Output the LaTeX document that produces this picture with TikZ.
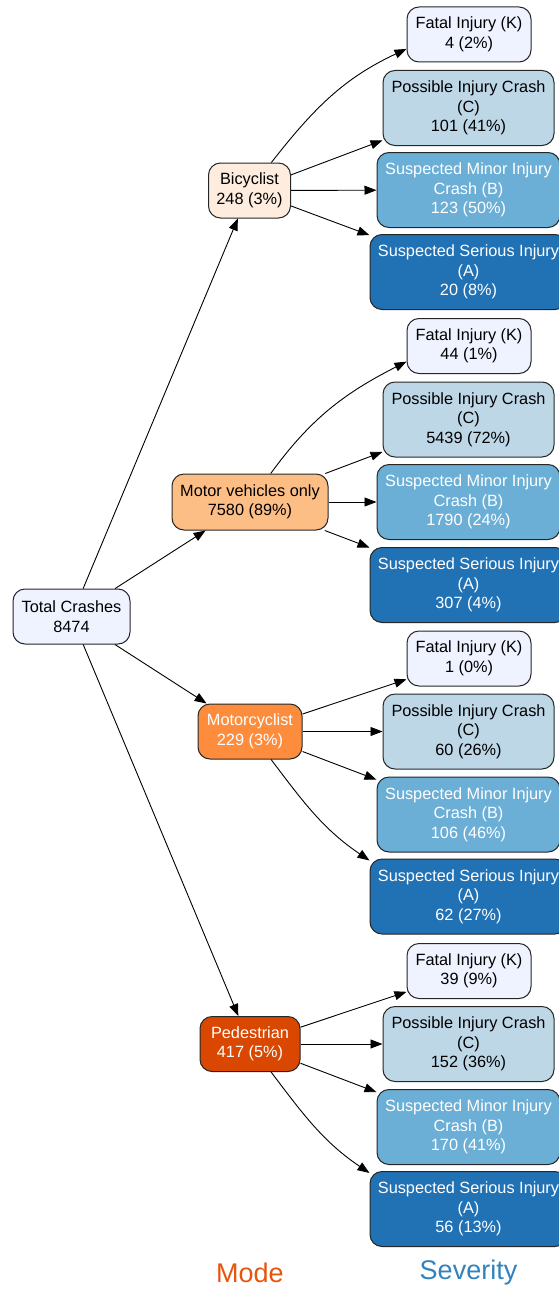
\documentclass[tikz,border=0pt]{standalone}
\usepackage{fontspec}
\setmainfont{Liberation Sans}
\usetikzlibrary{arrows.meta}
\definecolor{tc}{HTML}{EFF3FF}
\definecolor{o1}{HTML}{FEEDDE}
\definecolor{o2}{HTML}{FDBE85}
\definecolor{o3}{HTML}{FD8D3C}
\definecolor{o4}{HTML}{D94701}
\definecolor{sk}{HTML}{EFF3FF}
\definecolor{sc}{HTML}{BDD7E7}
\definecolor{sb}{HTML}{6BAED6}
\definecolor{sa}{HTML}{2171B5}
\definecolor{modec}{HTML}{E6550D}
\definecolor{sevc}{HTML}{3182BD}
\begin{document}
\begin{tikzpicture}[x=1pt,y=1pt,
  box/.style={draw=black!85, line width=1pt, rounded corners=12pt, align=center,
    inner sep=0pt, font=\fontsize{16.3}{19.5}\selectfont},
  tot/.style={box, fill=tc, minimum width=117pt, minimum height=55pt},
  fk/.style={box, fill=sk, minimum width=124pt, minimum height=55pt},
  pc/.style={box, fill=sc, minimum width=171pt, minimum height=75pt},
  mb/.style={box, fill=sb, text=white, minimum width=183pt, minimum height=75pt},
  sa/.style={box, fill=sa, text=white, minimum width=197pt, minimum height=75pt},
  edge/.style={-{Triangle[length=12pt,width=9pt]}, line width=0.9pt, black},
  lab/.style={font=\fontsize{27}{30}\selectfont, inner sep=0pt}
]
\useasboundingbox (0,0) rectangle (559,-1290);

% root
\node[tot] (tot) at (71.5,-616.5) {Total Crashes\\8474};

% modes
\node[box, fill=o1, minimum width=82pt, minimum height=55pt] (bic) at (249.5,-190.5) {Bicyclist\\248 (3\%)};
\node[box, fill=o2, minimum width=156pt, minimum height=56pt] (mv) at (250,-502) {Motor vehicles only\\7580 (89\%)};
\node[box, fill=o3, text=white, minimum width=104pt, minimum height=55pt] (mc) at (250,-731.5) {Motorcyclist\\229 (3\%)};
\node[box, fill=o4, text=white, minimum width=100pt, minimum height=55pt] (pd) at (250,-1044) {Pedestrian\\417 (5\%)};

% severity group 1
\node[fk] (f1) at (469,-34.5) {Fatal Injury (K)\\4 (2\%)};
\node[pc] (p1) at (468.5,-108) {Possible Injury Crash\\(C)\\101 (41\%)};
\node[mb] (m1) at (468.5,-190) {Suspected Minor Injury\\Crash (B)\\123 (50\%)};
\node[sa] (s1) at (468.5,-272) {Suspected Serious Injury\\(A)\\20 (8\%)};
% group 2
\node[fk] (f2) at (469,-346) {Fatal Injury (K)\\44 (1\%)};
\node[pc] (p2) at (468.5,-419.5) {Possible Injury Crash\\(C)\\5439 (72\%)};
\node[mb] (m2) at (468.5,-502) {Suspected Minor Injury\\Crash (B)\\1790 (24\%)};
\node[sa] (s2) at (468.5,-585) {Suspected Serious Injury\\(A)\\307 (4\%)};
% group 3
\node[fk] (f3) at (469,-658.5) {Fatal Injury (K)\\1 (0\%)};
\node[pc] (p3) at (468.5,-731.5) {Possible Injury Crash\\(C)\\60 (26\%)};
\node[mb] (m3) at (468.5,-814.5) {Suspected Minor Injury\\Crash (B)\\106 (46\%)};
\node[sa] (s3) at (468.5,-896.5) {Suspected Serious Injury\\(A)\\62 (27\%)};
% group 4
\node[fk] (f4) at (469,-971) {Fatal Injury (K)\\39 (9\%)};
\node[pc] (p4) at (468.5,-1044) {Possible Injury Crash\\(C)\\152 (36\%)};
\node[mb] (m4) at (468.5,-1127) {Suspected Minor Injury\\Crash (B)\\170 (41\%)};
\node[sa] (s4) at (468.5,-1209) {Suspected Serious Injury\\(A)\\56 (13\%)};

% edges from root
\draw[edge] (tot) -- (bic);
\draw[edge] (tot) -- (mv);
\draw[edge] (tot) -- (mc);
\draw[edge] (tot) -- (pd);

% bicyclist
\draw[edge] (bic.52) to[out=52,in=205] (f1.193);
\draw[edge] (bic) -- (p1);
\draw[edge] (bic) -- (m1);
\draw[edge] (bic) -- (s1);
% motor vehicles
\draw[edge] (mv.54) to[out=54,in=207] (f2.194);
\draw[edge] (mv) -- (p2);
\draw[edge] (mv) -- (m2);
\draw[edge] (mv) -- (s2);
% motorcyclist
\draw[edge] (mc) -- (f3);
\draw[edge] (mc) -- (p3);
\draw[edge] (mc) -- (m3);
\draw[edge] (mc.-53) to[out=-53,in=146] (s3.160);
% pedestrian
\draw[edge] (pd) -- (f4);
\draw[edge] (pd) -- (p4);
\draw[edge] (pd) -- (m4);
\draw[edge] (pd.-53) to[out=-53,in=146] (s4.160);

% column labels
\node[lab, text=modec] (lmode) at (250,-1273) {Mode};
\node[lab, text=sevc] (lsev) at (468.5,-1273) {Severity};
\end{tikzpicture}
\end{document}
